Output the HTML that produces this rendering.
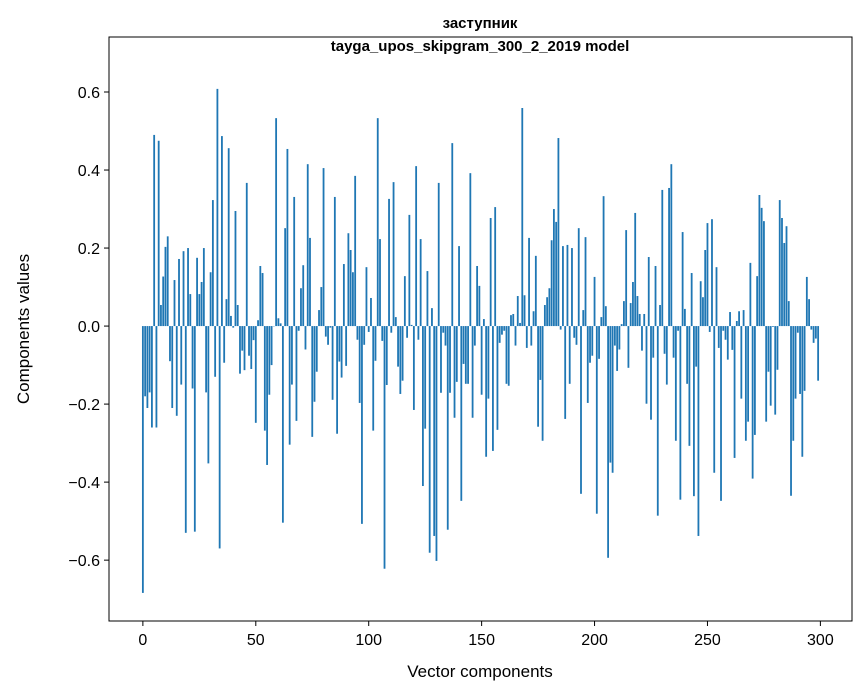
<!DOCTYPE html>
<html><head><meta charset="utf-8"><style>
body{margin:0;background:#fff;}
svg{display:block;font-family:"Liberation Sans","DejaVu Sans",sans-serif;}
</style></head><body>
<svg id="chart" width="867" height="696" xmlns="http://www.w3.org/2000/svg">
<rect width="867" height="696" fill="#fff"/>
<text x="480" y="28" text-anchor="middle" font-size="15" font-weight="bold">заступник</text>
<text x="480" y="51" text-anchor="middle" font-size="15" font-weight="bold">tayga_upos_skipgram_300_2_2019 model</text>
<g id="bars"></g>
<g id="axes"></g>
<text x="480" y="677" text-anchor="middle" font-size="17">Vector components</text>
<text x="29" y="329" text-anchor="middle" font-size="17" transform="rotate(-90 29 329)">Components values</text>
</svg>
<script>
const values = [
-0.684,-0.18,-0.21,-0.17,-0.26,0.49,-0.26,0.475,0.054,0.127,
0.203,0.23,-0.09,-0.21,0.118,-0.23,0.172,-0.15,0.192,-0.53,
0.2,0.082,-0.16,-0.527,0.175,0.082,0.113,0.2,-0.17,-0.352,
0.138,0.323,-0.13,0.608,-0.57,0.487,-0.094,0.069,0.456,0.026,
-0.004,0.295,0.054,-0.122,-0.063,-0.113,0.367,-0.076,-0.11,-0.036,
-0.248,0.015,0.154,0.136,-0.268,-0.356,-0.176,-0.1,0.0,0.533,
0.02,0.007,-0.504,0.251,0.454,-0.304,-0.15,0.331,-0.243,-0.012,
0.097,0.156,-0.06,0.415,0.226,-0.284,-0.194,-0.117,0.041,0.1,
0.405,-0.027,-0.048,-0.004,-0.189,0.331,-0.276,-0.091,-0.132,0.159,
-0.102,0.238,0.195,0.138,0.385,-0.035,-0.197,-0.507,-0.048,0.151,
-0.015,0.072,-0.268,-0.089,0.533,0.223,-0.038,-0.622,-0.151,0.326,
-0.017,0.369,0.023,-0.104,-0.174,-0.14,0.128,-0.03,0.285,0.003,
-0.215,0.41,-0.035,0.223,-0.41,-0.263,0.141,-0.581,0.046,-0.538,
-0.602,0.367,-0.171,-0.017,-0.05,-0.522,-0.171,0.469,-0.235,-0.143,
0.205,-0.448,-0.097,-0.148,-0.148,0.392,-0.235,-0.05,0.154,0.103,
-0.176,0.018,-0.335,-0.186,0.277,-0.32,0.305,-0.266,-0.043,-0.022,
-0.012,-0.148,-0.153,0.028,0.031,-0.05,0.077,0.008,0.559,0.079,
-0.056,0.226,-0.05,0.038,0.18,-0.258,-0.138,-0.294,0.054,0.074,
0.097,0.22,0.3,0.267,0.482,-0.009,0.205,-0.238,0.208,-0.148,
0.2,-0.03,-0.048,0.251,-0.43,0.041,0.228,-0.197,-0.094,-0.076,
0.126,-0.481,-0.084,0.023,0.333,0.051,-0.594,-0.35,-0.376,-0.05,
-0.115,-0.06,0.005,0.064,0.246,-0.107,0.059,0.113,0.29,0.077,
0.031,-0.063,0.031,-0.199,0.177,-0.24,-0.081,0.154,-0.486,0.054,
0.349,-0.071,-0.15,0.354,0.415,-0.081,-0.294,-0.012,-0.445,0.241,
0.044,-0.148,-0.307,0.136,-0.436,-0.104,-0.538,0.115,0.074,0.195,
0.264,-0.015,0.274,-0.376,0.151,-0.056,-0.448,-0.012,-0.035,-0.086,
0.036,-0.061,-0.338,0.013,0.038,-0.186,0.041,-0.294,-0.245,0.162,
-0.391,-0.279,0.128,0.336,0.303,0.269,-0.245,-0.117,-0.204,-0.002,
-0.227,-0.112,0.323,0.277,0.213,0.256,0.064,-0.435,-0.294,-0.186,
-0.017,-0.174,-0.335,-0.166,0.126,0.069,-0.009,-0.043,-0.032,-0.14
];
const xTicks = [0,50,100,150,200,250,300];
const yTicks = [-0.6,-0.4,-0.2,0.0,0.2,0.4,0.6];

const L=109,R=852,T=37,B=621;
const xMin=-15,xMax=314,yMin=-0.756,yMax=0.741;
const sx=v=>L+(v-xMin)/(xMax-xMin)*(R-L);
const sy=v=>B-(v-yMin)/(yMax-yMin)*(B-T);
const NS="http://www.w3.org/2000/svg";
const bars=document.getElementById('bars');
const axes=document.getElementById('axes');
const bw=sx(0.8)-sx(0);
values.forEach((v,i)=>{
  const r=document.createElementNS(NS,'rect');
  const y0=sy(0),y1=sy(v);
  r.setAttribute('x',sx(i)-bw/2);
  r.setAttribute('y',Math.min(y0,y1));
  r.setAttribute('width',bw);
  r.setAttribute('height',Math.max(Math.abs(y1-y0),0.3));
  r.setAttribute('fill','#1f77b4');
  
  
  bars.appendChild(r);
});
const frame=document.createElementNS(NS,'rect');
frame.setAttribute('x',L);frame.setAttribute('y',T);
frame.setAttribute('width',R-L);frame.setAttribute('height',B-T);
frame.setAttribute('fill','none');frame.setAttribute('stroke','#000');frame.setAttribute('stroke-width','1');


axes.appendChild(frame);
xTicks.forEach(t=>{
  const x=sx(t);
  const l=document.createElementNS(NS,'line');
  l.setAttribute('x1',x);l.setAttribute('x2',x);l.setAttribute('y1',B);l.setAttribute('y2',B+5);
  l.setAttribute('stroke','#000');
  
  
  axes.appendChild(l);
  const tx=document.createElementNS(NS,'text');
  tx.setAttribute('x',x);tx.setAttribute('y',B+24);tx.setAttribute('text-anchor','middle');tx.setAttribute('font-size','16');
  tx.textContent=t;
  
  
  axes.appendChild(tx);
});
yTicks.forEach(t=>{
  const y=sy(t);
  const l=document.createElementNS(NS,'line');
  l.setAttribute('x1',L-5);l.setAttribute('x2',L);l.setAttribute('y1',y);l.setAttribute('y2',y);
  l.setAttribute('stroke','#000');
  
  
  axes.appendChild(l);
  const tx=document.createElementNS(NS,'text');
  tx.setAttribute('x',L-9);tx.setAttribute('y',y+6);tx.setAttribute('text-anchor','end');tx.setAttribute('font-size','16');
  tx.textContent=(t<0?'\u2212':'')+Math.abs(t).toFixed(1);
  
  
  axes.appendChild(tx);
});
</script>
</body></html>
